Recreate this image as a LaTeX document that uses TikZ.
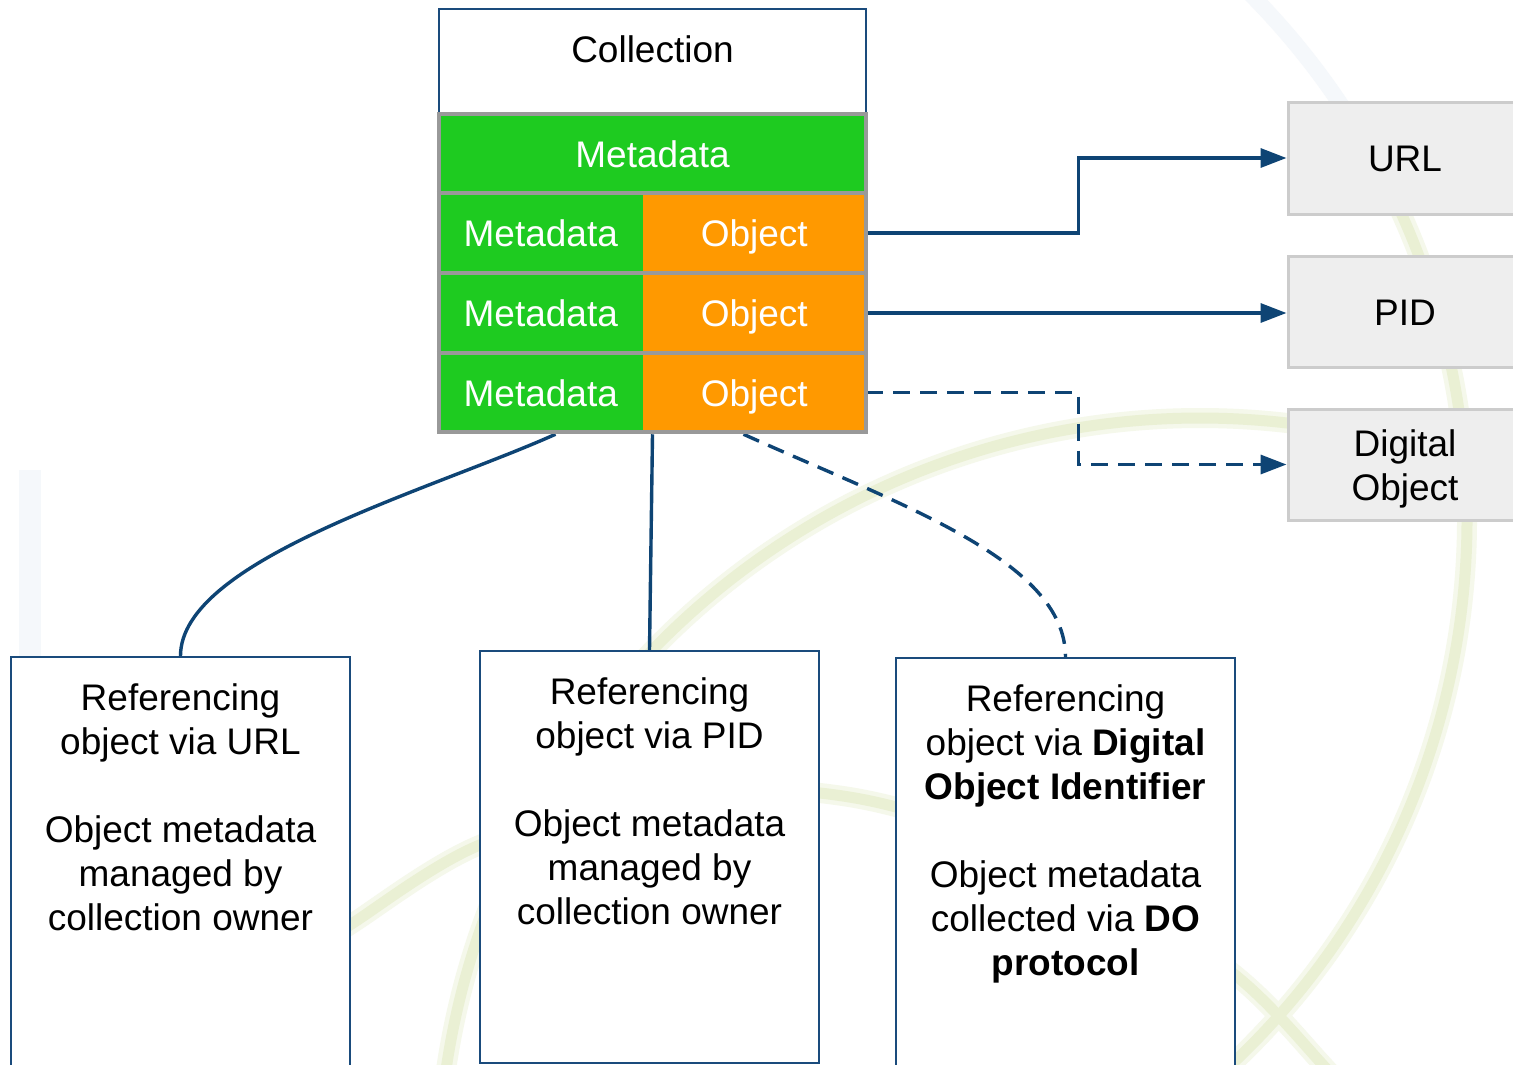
\documentclass[tikz,border=0pt]{standalone}
\usepackage{fontspec}
\setmainfont{Liberation Sans}
\usetikzlibrary{arrows.meta}

\definecolor{navy}{RGB}{14,68,116}
\definecolor{boxnavy}{RGB}{26,75,124}
\definecolor{mdgreen}{RGB}{30,203,32}
\definecolor{objorange}{RGB}{255,153,0}
\definecolor{gridgray}{RGB}{153,153,153}
\definecolor{idfill}{RGB}{238,238,238}
\definecolor{idline}{RGB}{204,204,204}
\definecolor{swirl}{RGB}{234,240,212}
\definecolor{swirlhalo}{RGB}{245,248,235}
\definecolor{swirlblue}{RGB}{245,248,251}

\pgfdeclarelayer{swirls}
\pgfdeclarelayer{links}
\pgfsetlayers{swirls,links,main}

\tikzset{
  txt/.style={font=\fontsize{37pt}{44pt}\selectfont, inner sep=0pt, align=center},
  tcell/.style={txt, text=white, minimum height=80pt, text height=27pt, text depth=0pt},
  greencell/.style={tcell, fill=mdgreen},
  orangecell/.style={tcell, fill=objorange},
  gridline/.style={draw=gridgray, line width=4.5pt},
  idbox/.style={txt, fill=idfill, draw=idline, line width=3pt, minimum width=234pt,
                text height=27pt, text depth=0pt},
  refbox/.style={draw=boxnavy, line width=1.8pt, fill=white, inner sep=0pt,
                 minimum width=339pt, anchor=north},
  link/.style={draw=navy, line width=3.4pt},
  arrowlink/.style={link, -{Triangle[length=26pt,width=19pt]}},
  dashlink/.style={dash pattern=on 17pt off 10pt},
  swirlhalo/.style={draw=swirlhalo, line width=20pt},
  swirlline/.style={draw=swirl, line width=11pt}
}

\begin{document}
\begin{tikzpicture}[x=1pt,y=-1pt]
\useasboundingbox (0,0) rectangle (1513,1065);

% faint background swirls (a soft halo under each stroke)
\begin{pgfonlayer}{swirls}
  \fill[white] (0,0) rectangle (1513,1065);
  \foreach \sty in {swirlhalo,swirlline}{
    \draw[\sty] (720,520) ++(-32:747) arc[start angle=-32, end angle=48, radius=747];
    \draw[\sty] (1200,1180) ++(188:762) arc[start angle=188, end angle=296, radius=762];
    \draw[\sty] plot[smooth, tension=0.6] coordinates {
      (330,940) (353,923) (475,847) (620,805) (750,790) (820,793) (896,807)
      (1000,840) (1120,895) (1240,979) (1323,1065) (1345,1092)};
  }
  \draw[draw=swirlblue, line width=16pt] (720,520) ++(-46:747) arc[start angle=-46, end angle=-32, radius=747];
  \draw[draw=swirlblue, line width=22pt] (30,470) -- (30,660);
\end{pgfonlayer}

% collection header
\node[draw=boxnavy, line width=1.8pt, fill=white, inner sep=0pt,
      minimum width=427pt, minimum height=105pt] (coll) at (652.5,61.5) {};
\node[txt, anchor=base] (colltext) at (652.5,63) {Collection};

% collection table
\node[greencell, minimum width=427pt] (meta0) at (652.5,153.5) {Metadata};
\node[greencell, minimum width=203.5pt] (meta1) at (540.75,233) {Metadata};
\node[orangecell, minimum width=223.5pt] (obj1) at (754.25,233) {Object};
\node[greencell, minimum width=203.5pt] (meta2) at (540.75,313) {Metadata};
\node[orangecell, minimum width=223.5pt] (obj2) at (754.25,313) {Object};
\node[greencell, minimum width=203.5pt] (meta3) at (540.75,392.5) {Metadata};
\node[orangecell, minimum width=223.5pt] (obj3) at (754.25,392.5) {Object};
\node[gridline, inner sep=0pt, minimum width=427pt, minimum height=318pt] (tbl) at (652.5,273) {};
\draw[gridline] (tbl.west |- 0,193) -- (tbl.east |- 0,193);
\draw[gridline] (tbl.west |- 0,273) -- (tbl.east |- 0,273);
\draw[gridline] (tbl.west |- 0,353) -- (tbl.east |- 0,353);

% identifier targets
\node[idbox, minimum height=112pt] (url) at (1405,158) {URL};
\node[idbox, minimum height=111pt] (pid) at (1405,312) {PID};
\node[idbox, minimum height=111pt] (do) at (1405,464.5) {};
\node[txt, anchor=north] (dotext) at (1405,429.5) {Digital\\Object};

% referencing variants
\node[refbox, minimum height=420pt] (refurl) at (180.5,656) {};
\node[refbox, minimum height=412pt] (refpid) at (649.5,650) {};
\node[refbox, minimum height=420pt] (refdo) at (1065.5,657) {};
\node[txt, anchor=north] (refurltext) at ([yshift=-27.5pt]refurl.north)
  {Referencing\\object via URL\\[44pt]Object metadata\\managed by\\collection owner};
\node[txt, anchor=north] (refpidtext) at ([yshift=-27.5pt]refpid.north)
  {Referencing\\object via PID\\[44pt]Object metadata\\managed by\\collection owner};
\node[txt, anchor=north] (refdotext) at ([yshift=-27.5pt]refdo.north)
  {Referencing\\object via \textbf{Digital}\\\textbf{Object Identifier}\\[44pt]Object metadata\\collected via \textbf{DO}\\\textbf{protocol}};

% connectors
\begin{pgfonlayer}{links}
  \draw[arrowlink] (obj1.east) -- ++(212,0) |- (url.west);
  \draw[arrowlink] (obj2.east) -- (obj2.east -| pid.west);
  \draw[arrowlink, dashlink] (obj3.east) -- ++(212,0) |- (do.west);
  \draw[link] ([xshift=-97pt]tbl.south) .. controls +(-125,56) and +(0,-96) .. (refurl.north);
  \draw[link] (tbl.south) -- (refpid.north);
  \draw[link, dashlink] ([xshift=91pt]tbl.south) .. controls +(155,70) and +(0,-97) .. (refdo.north);
\end{pgfonlayer}
\end{tikzpicture}
\end{document}
